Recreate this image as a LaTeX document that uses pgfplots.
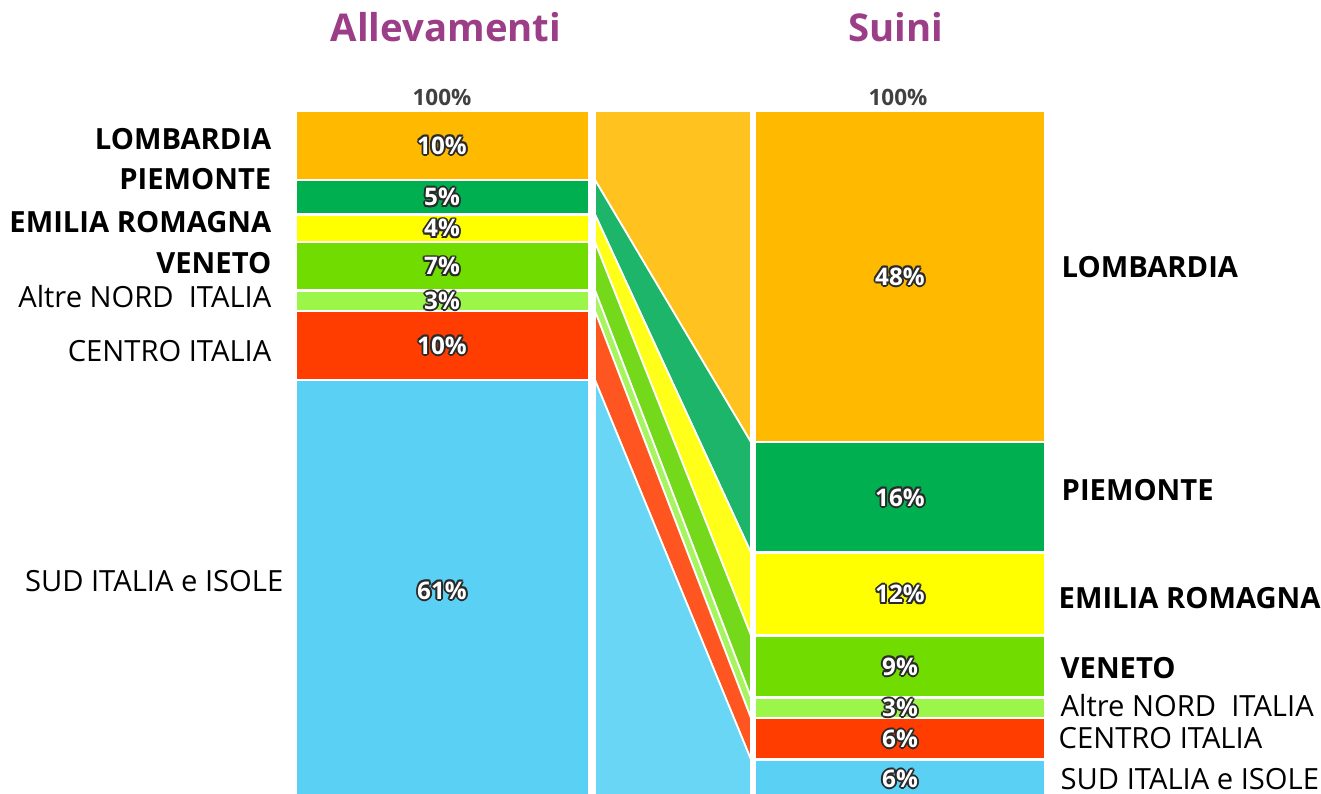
\documentclass[border=0pt]{standalone}
\usepackage{pgfplots}
\pgfplotsset{compat=1.18}
\usepackage{fontspec}
\setmainfont{Open Sans}
\definecolor{cLom}{HTML}{FFBA00}
\definecolor{cPie}{HTML}{00B050}
\definecolor{cEmi}{HTML}{FFFF00}
\definecolor{cVen}{HTML}{70DC00}
\definecolor{cAlt}{HTML}{9CF64A}
\definecolor{cCen}{HTML}{FF3D00}
\definecolor{cSud}{HTML}{5BD0F5}
\definecolor{bLom}{HTML}{FFC21E}
\definecolor{bPie}{HTML}{1DB56A}
\definecolor{bEmi}{HTML}{FFFF1A}
\definecolor{bVen}{HTML}{74D91A}
\definecolor{bAlt}{HTML}{A6F560}
\definecolor{bCen}{HTML}{FF5520}
\definecolor{bSud}{HTML}{6AD6F6}
\definecolor{ttl}{HTML}{9C3D87}
\definecolor{outc}{HTML}{2A2A2A}
\newcommand{\outl}[1]{{\def\o##1##2{\rlap{\kern##1\raisebox{##2}{\textcolor{outc}{#1}}}}%
\o{0.55pt}{0pt}\o{-0.55pt}{0pt}\o{0pt}{0.55pt}\o{0pt}{-0.55pt}%
\o{0.4pt}{0.4pt}\o{-0.4pt}{0.4pt}\o{0.4pt}{-0.4pt}\o{-0.4pt}{-0.4pt}%
\textcolor{white}{#1}}}
\begin{document}
\begin{tikzpicture}
\begin{axis}[
  scale only axis, width=13.21cm, height=7.93cm,
  xmin=0, xmax=1321, ymin=1.16, ymax=116.09,
  axis lines=none, clip=true,
  every axis plot/.append style={draw=white, line width=0.7pt},
]
% Allevamenti bar (x 296..589)
\addplot[fill=cLom] coordinates {(296,100) (589,100) (589,90) (296,90)} --cycle;
\addplot[fill=cPie] coordinates {(296,90) (589,90) (589,85) (296,85)} --cycle;
\addplot[fill=cEmi] coordinates {(296,85) (589,85) (589,81) (296,81)} --cycle;
\addplot[fill=cVen] coordinates {(296,81) (589,81) (589,74) (296,74)} --cycle;
\addplot[fill=cAlt] coordinates {(296,74) (589,74) (589,71) (296,71)} --cycle;
\addplot[fill=cCen] coordinates {(296,71) (589,71) (589,61) (296,61)} --cycle;
\addplot[fill=cSud] coordinates {(296,61) (589,61) (589,-5) (296,-5)} --cycle;
% Suini bar (x 755..1045)
\addplot[fill=cLom] coordinates {(755,100) (1045,100) (1045,52) (755,52)} --cycle;
\addplot[fill=cPie] coordinates {(755,52) (1045,52) (1045,36) (755,36)} --cycle;
\addplot[fill=cEmi] coordinates {(755,36) (1045,36) (1045,24) (755,24)} --cycle;
\addplot[fill=cVen] coordinates {(755,24) (1045,24) (1045,15) (755,15)} --cycle;
\addplot[fill=cAlt] coordinates {(755,15) (1045,15) (1045,12) (755,12)} --cycle;
\addplot[fill=cCen] coordinates {(755,12) (1045,12) (1045,6) (755,6)} --cycle;
\addplot[fill=cSud] coordinates {(755,6) (1045,6) (1045,-5) (755,-5)} --cycle;
% bands (x 595..750)
\addplot[fill=bLom, line width=0.5pt] coordinates {(595,100) (751,100) (751,52) (595,90)} --cycle;
\addplot[fill=bPie, line width=0.5pt] coordinates {(595,90) (751,52) (751,36) (595,85)} --cycle;
\addplot[fill=bEmi, line width=0.5pt] coordinates {(595,85) (751,36) (751,24) (595,81)} --cycle;
\addplot[fill=bVen, line width=0.5pt] coordinates {(595,81) (751,24) (751,15) (595,74)} --cycle;
\addplot[fill=bAlt, line width=0.5pt] coordinates {(595,74) (751,15) (751,12) (595,71)} --cycle;
\addplot[fill=bCen, line width=0.5pt] coordinates {(595,71) (751,12) (751,6) (595,61)} --cycle;
\addplot[fill=bSud, line width=0.5pt] coordinates {(595,61) (751,6) (751,-5) (595,-5)} --cycle;
% segment labels
\begin{scope}[every node/.style={font=\fontsize{6.9}{7}\selectfont\bfseries, inner sep=0pt}]
\node at (axis cs:442,95) {\outl{10\%}};
\node at (axis cs:442,87.5) {\outl{5\%}};
\node at (axis cs:442,83) {\outl{4\%}};
\node at (axis cs:442,77.5) {\outl{7\%}};
\node at (axis cs:442,72.5) {\outl{3\%}};
\node at (axis cs:442,66) {\outl{10\%}};
\node at (axis cs:442,30.5) {\outl{61\%}};
\node at (axis cs:900,76) {\outl{48\%}};
\node at (axis cs:900,44) {\outl{16\%}};
\node at (axis cs:900,30) {\outl{12\%}};
\node at (axis cs:900,19.5) {\outl{9\%}};
\node at (axis cs:900,13.5) {\outl{3\%}};
\node at (axis cs:900,9) {\outl{6\%}};
\node at (axis cs:900,3.2) {\outl{6\%}};
\end{scope}
% 100% labels
\node[font=\fontsize{6.4}{7}\selectfont\bfseries, text=black!75, inner sep=0pt] at (axis cs:442,102.03) {100\%};
\node[font=\fontsize{6.4}{7}\selectfont\bfseries, text=black!75, inner sep=0pt] at (axis cs:898,102.03) {100\%};
% titles
\node[font=\fontsize{10.9}{12}\selectfont\bfseries, text=ttl, inner sep=0pt] at (axis cs:446,112.17) {Allevamenti};
\node[font=\fontsize{10.9}{12}\selectfont\bfseries, text=ttl, inner sep=0pt] at (axis cs:896,112.17) {Suini};
% left labels
\begin{scope}[every node/.style={font=\fontsize{8.3}{9}\selectfont, anchor=east, inner sep=0pt}]
\node[font=\fontsize{8.3}{9}\selectfont\bfseries] at (axis cs:272,95.94) {LOMBARDIA};
\node[font=\fontsize{8.3}{9}\selectfont\bfseries] at (axis cs:272,90.14) {PIEMONTE};
\node[font=\fontsize{8.3}{9}\selectfont\bfseries] at (axis cs:272,83.91) {EMILIA ROMAGNA};
\node[font=\fontsize{8.3}{9}\selectfont\bfseries] at (axis cs:272,77.97) {VENETO};
\node at (axis cs:272,73.04) {Altre NORD\ \ ITALIA};
\node at (axis cs:272,65.22) {CENTRO ITALIA};
\node at (axis cs:284,31.88) {SUD ITALIA e ISOLE};
\end{scope}
% right labels
\begin{scope}[every node/.style={font=\fontsize{8.3}{9}\selectfont, anchor=west, inner sep=0pt}]
\node[font=\fontsize{8.3}{9}\selectfont\bfseries] at (axis cs:1061,77.39) {LOMBARDIA};
\node[font=\fontsize{8.3}{9}\selectfont\bfseries] at (axis cs:1061,45.07) {PIEMONTE};
\node[font=\fontsize{8.3}{9}\selectfont\bfseries] at (axis cs:1058,29.42) {EMILIA ROMAGNA};
\node[font=\fontsize{8.3}{9}\selectfont\bfseries] at (axis cs:1060,19.28) {VENETO};
\node at (axis cs:1060,13.77) {Altre NORD\ \ ITALIA};
\node at (axis cs:1058,9.13) {CENTRO ITALIA};
\node at (axis cs:1060,3.19) {SUD ITALIA e ISOLE};
\end{scope}
\coordinate (sw) at (rel axis cs:0,0);
\coordinate (ne) at (rel axis cs:1,1);
\end{axis}
\pgfresetboundingbox
\path (sw) rectangle (ne);
\end{tikzpicture}
\end{document}
